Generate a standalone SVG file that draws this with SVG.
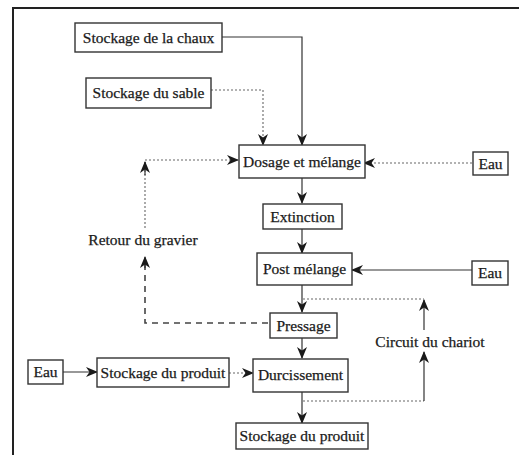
<svg xmlns="http://www.w3.org/2000/svg" width="519" height="455" viewBox="0 0 519 455">
<defs>
<marker id="ah" viewBox="0 0 12 10" refX="11" refY="5" markerWidth="12" markerHeight="10" markerUnits="userSpaceOnUse" orient="auto">
<path d="M0,0 L12,5 L0,10 L3.5,5 z" fill="#1a1a1a"/>
</marker>
<style>
.box{fill:#fff;stroke:#333;stroke-width:1.4}
.t{font-size:15.5px;fill:#1a1a1a;text-anchor:middle;stroke:#1a1a1a;stroke-width:0.25}
.ln{fill:none;stroke:#333;stroke-width:1.2}
.dot{fill:none;stroke:#666;stroke-width:1.1;stroke-dasharray:2 2}
.dash{fill:none;stroke:#444;stroke-width:1.6;stroke-dasharray:6 5}
</style>
</defs>
<rect width="519" height="455" fill="#fff"/>
<path d="M13,460 V8 H525" fill="none" stroke="#222" stroke-width="2"/>
<g id="connectors">
<path class="ln" d="M222,37 H302 V145" marker-end="url(#ah)"/>
<path class="dot" d="M211,90 H263 V145" marker-end="url(#ah)"/>
<path class="dot" d="M472,163 H364" marker-end="url(#ah)"/>
<path class="ln" d="M302,178 V203" marker-end="url(#ah)"/>
<path class="ln" d="M302,229 V253" marker-end="url(#ah)"/>
<path class="ln" d="M472,270 H352" marker-end="url(#ah)"/>
<path class="ln" d="M302,285 V312" marker-end="url(#ah)"/>
<path class="ln" d="M302,338 V358" marker-end="url(#ah)"/>
<path class="ln" d="M302,392 V423" marker-end="url(#ah)"/>
<path class="ln" d="M63,372 H97" marker-end="url(#ah)"/>
<path class="dot" d="M229,373 H253" marker-end="url(#ah)"/>
<path class="dash" d="M268,323 H145 V262"/>
<path class="ln" d="M145,268 V257" marker-end="url(#ah)"/>
<path class="dot" d="M145,228 V160 H238" marker-end="url(#ah)"/>
<path class="ln" d="M145,175 V162" marker-end="url(#ah)"/>
<path class="dot" d="M303,299 H424"/>
<path class="ln" d="M424,330 V300" marker-end="url(#ah)"/>
<path class="dot" d="M303,401 H424"/>
<path class="ln" d="M424,401 V352" marker-end="url(#ah)"/>
</g>
<g font-family="'Liberation Serif', 'DejaVu Serif', serif">
<g id="chaux"><rect class="box" x="75" y="23" width="147" height="29"/><text class="t" x="148.5" y="43">Stockage de la chaux</text></g>
<g id="sable"><rect class="box" x="86" y="78" width="125" height="30"/><text class="t" x="148.5" y="98">Stockage du sable</text></g>
<g id="dosage"><rect class="box" x="239" y="145" width="126" height="33"/><text class="t" x="302" y="167">Dosage et mélange</text></g>
<g id="eau1"><rect class="box" x="473" y="152" width="35" height="23"/><text class="t" x="490.5" y="169">Eau</text></g>
<g id="extinction"><rect class="box" x="263" y="204" width="79" height="25"/><text class="t" x="302.5" y="222">Extinction</text></g>
<g id="retour"><text class="t" x="143" y="245">Retour du gravier</text></g>
<g id="postmelange"><rect class="box" x="257" y="253" width="95" height="32"/><text class="t" x="304.5" y="274">Post mélange</text></g>
<g id="eau2"><rect class="box" x="472" y="261" width="36" height="24"/><text class="t" x="490" y="278">Eau</text></g>
<g id="pressage"><rect class="box" x="270" y="313" width="67" height="25"/><text class="t" x="303.5" y="331">Pressage</text></g>
<g id="circuit"><text class="t" x="430" y="347">Circuit du chariot</text></g>
<g id="eau3"><rect class="box" x="28" y="360" width="35" height="24"/><text class="t" x="45.5" y="377">Eau</text></g>
<g id="stockprod1"><rect class="box" x="97" y="358" width="132" height="29"/><text class="t" x="163" y="378">Stockage du produit</text></g>
<g id="durcissement"><rect class="box" x="253" y="359" width="95" height="33"/><text class="t" x="300.5" y="380">Durcissement</text></g>
<g id="stockprod2"><rect class="box" x="236" y="423" width="132" height="26"/><text class="t" x="302" y="441">Stockage du produit</text></g>
</g>
</svg>
